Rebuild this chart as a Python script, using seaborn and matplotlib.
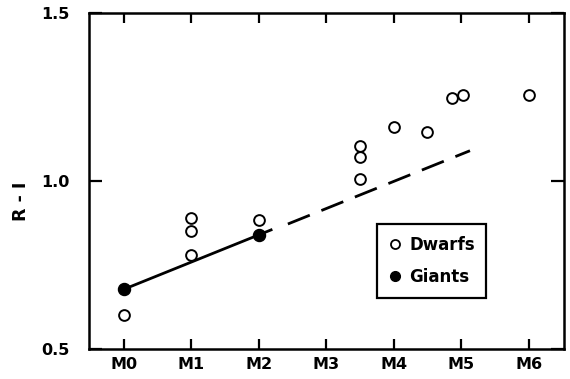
import pandas as pd
import matplotlib.pyplot as plt
import seaborn as sns
from matplotlib.lines import Line2D

# spectral subtype (M0 = 0) and R-I colour
dwarf_type = [0, 1, 1, 1, 2, 3.5, 3.5, 3.5, 4, 4.5, 4.87, 5.03, 6]
dwarf_ri = [0.60, 0.89, 0.85, 0.78, 0.885, 1.105, 1.07, 1.005, 1.16, 1.145, 1.248, 1.255, 1.257]

giant_type = [0, 2]
giant_ri = [0.678, 0.84]

# giant sequence, solid where observed and dashed where extrapolated
solid_type = [0, 2.2]
solid_ri = [0.678, 0.856]
dashed_type = [2.43, 5.13]
dashed_ri = [0.872, 1.09]

tick_pos = [0, 1, 2, 3, 4, 5, 6]
tick_labels = ["M0", "M1", "M2", "M3", "M4", "M5", "M6"]

dwarfs = pd.DataFrame({"type": dwarf_type, "ri": dwarf_ri})
giants = pd.DataFrame({"type": giant_type, "ri": giant_ri})

sns.set_style("ticks", {"axes.edgecolor": "black", "text.color": "black",
                        "xtick.color": "black", "ytick.color": "black",
                        "axes.labelcolor": "black"})
plt.rcParams["font.family"] = ["DejaVu Sans"]
plt.rcParams["font.weight"] = "bold"

fig = plt.figure(figsize=(5.7, 3.79), dpi=100)
ax = fig.add_axes([0.156, 0.079, 0.833, 0.887])

ax.plot(solid_type, solid_ri, color="black", linewidth=2.0, solid_capstyle="butt")
ax.plot(dashed_type, dashed_ri, color="black", linewidth=2.0,
        dashes=(8.5, 4.5), dash_capstyle="butt")

sns.scatterplot(data=dwarfs, x="type", y="ri", ax=ax, s=60,
                facecolor="white", edgecolor="black", linewidth=1.4, zorder=3)
sns.scatterplot(data=giants, x="type", y="ri", ax=ax, s=75,
                color="black", edgecolor="black", linewidth=1.0, zorder=4)

ax.set_xlim(-0.52, 6.52)
ax.set_ylim(0.5, 1.5)
ax.set_xticks(tick_pos)
ax.set_xticklabels(tick_labels)
ax.set_yticks([0.5, 1.0, 1.5])
ax.set_yticklabels(["0.5", "1.0", "1.5"])

ax.tick_params(axis="x", direction="in", length=7, width=1.6, top=True,
               labelsize=11.5, pad=6)
ax.tick_params(axis="y", direction="in", length=9.5, width=1.6, right=True,
               labelsize=11.5, pad=14)
for lab in ax.get_xticklabels() + ax.get_yticklabels():
    lab.set_fontweight("bold")

for sp in ax.spines.values():
    sp.set_linewidth(1.8)
    sp.set_visible(True)

ax.set_xlabel("")
ax.set_ylabel("R - I", fontsize=12.5, fontweight="bold")
ax.yaxis.set_label_coords(-0.125, 0.44)

handles = [
    Line2D([], [], marker="o", linestyle="none", markerfacecolor="white",
           markeredgecolor="black", markeredgewidth=1.3, markersize=6.5),
    Line2D([], [], marker="o", linestyle="none", color="black", markersize=7),
]
leg = ax.legend(handles, ["Dwarfs", "Giants"], loc="upper left",
                bbox_to_anchor=(0.606, 0.372), frameon=True, fancybox=False,
                framealpha=1, handletextpad=0.45, handlelength=0.8,
                labelspacing=0.85, borderpad=0.7, borderaxespad=0,
                prop={"size": 12, "weight": "bold"})
leg.get_frame().set_edgecolor("black")
leg.get_frame().set_linewidth(1.6)

plt.savefig("out.png", dpi=100)
